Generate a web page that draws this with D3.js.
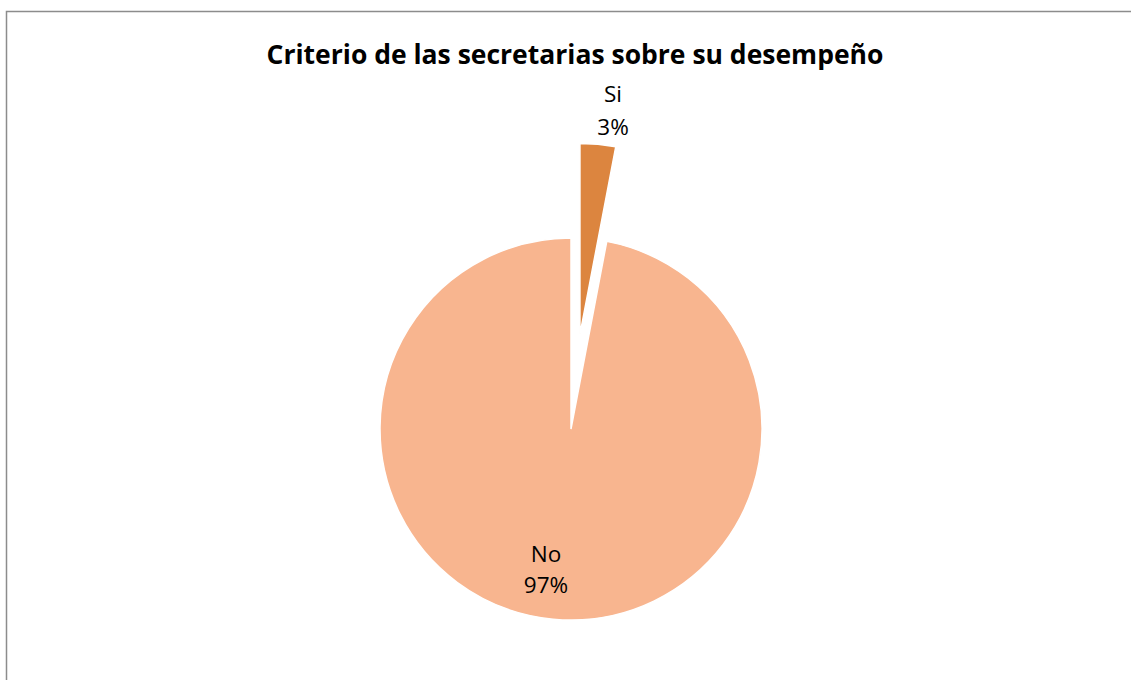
<!DOCTYPE html>
<html>
<head>
<meta charset="utf-8">
<script src="https://cdn.jsdelivr.net/npm/d3@7/dist/d3.min.js"></script>
<style>
  html, body { margin: 0; padding: 0; background: #fff; }
  svg { display: block; }
</style>
</head>
<body>
<svg id="chart" width="1131" height="680"></svg>
<script>
// Survey answers and their shares
const categories = ["Si", "No"];
const values = [3, 97];
const colors = ["#DC853F", "#F8B58F"];
const title = "Criterio de las secretarias sobre su desempeño";

const W = 1131, H = 680;
const svg = d3.select("#chart");

// Chart frame (extends past the window on the right and bottom)
svg.append("rect")
  .attr("x", 6.5).attr("y", 11.5)
  .attr("width", W + 20).attr("height", H + 20)
  .attr("fill", "#fff")
  .attr("stroke", "#8c8c8c")
  .attr("stroke-width", 1.5);

svg.append("text")
  .attr("x", 575).attr("y", 64)
  .attr("text-anchor", "middle")
  .attr("font-family", "'Open Sans', 'Noto Sans', sans-serif")
  .attr("font-weight", "bold")
  .attr("font-size", 26.5)
  .attr("fill", "#000")
  .text(title);

const cx = 571, cy = 429, R = 191;
const explode = { "Si": 95 };

const pie = d3.pie().sort(null).value(d => d.value);
const arcs = pie(categories.map((c, i) => ({ cat: c, value: values[i], color: colors[i] })));
const arc = d3.arc().innerRadius(0).outerRadius(R);

const g = svg.append("g").attr("transform", `translate(${cx},${cy})`);

const slices = g.selectAll("g.slice").data(arcs).join("g")
  .attr("class", "slice")
  .attr("transform", d => {
    const off = explode[d.data.cat] || 0;
    const a = (d.startAngle + d.endAngle) / 2;
    return `translate(${off * Math.sin(a)},${-off * Math.cos(a)})`;
  });

slices.append("path")
  .attr("d", arc)
  .attr("fill", d => d.data.color)
  .attr("stroke", "#fff")
  .attr("stroke-width", 1.5);

// Data labels: category on the first line, percentage below (baselines)
const labelPos = {
  "Si": [613, 102, 135],
  "No": [546, 562, 593]
};
const total = d3.sum(values);
const lbl = g.selectAll("text.lbl").data(arcs).join("text")
  .attr("class", "lbl")
  .attr("text-anchor", "middle")
  .attr("font-family", "'Open Sans', 'Noto Sans', sans-serif")
  .attr("font-size", 22.5)
  .attr("fill", "#000");
lbl.append("tspan")
  .attr("x", d => labelPos[d.data.cat][0] - cx)
  .attr("y", d => labelPos[d.data.cat][1] - cy)
  .text(d => d.data.cat);
lbl.append("tspan")
  .attr("x", d => labelPos[d.data.cat][0] - cx)
  .attr("y", d => labelPos[d.data.cat][2] - cy)
  .text(d => Math.round(d.data.value / total * 100) + "%");
</script>
</body>
</html>
